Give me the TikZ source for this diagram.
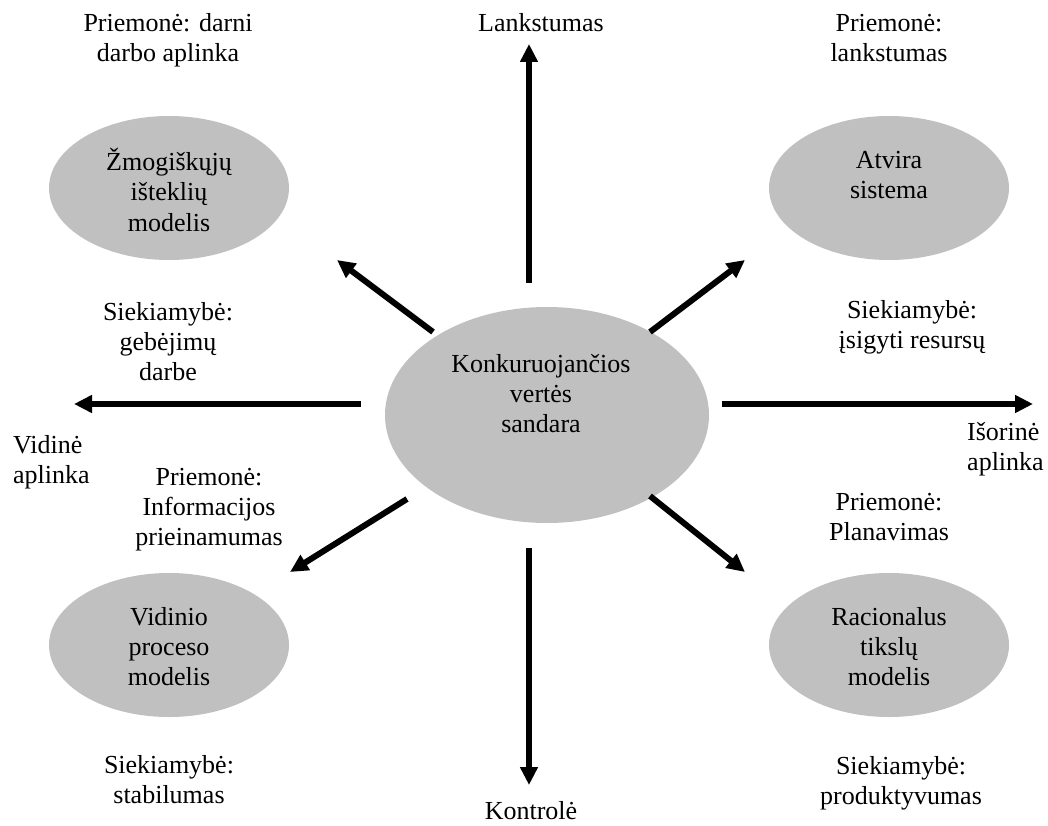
\documentclass[tikz,border=0pt]{standalone}
\usepackage{fontspec}
\setmainfont{Liberation Serif}
\usetikzlibrary{arrows.meta,shapes.geometric}
\definecolor{ellgray}{RGB}{192,192,192}
\newcommand\dfont{\fontsize{26}{30}\selectfont}
\begin{document}
\begin{tikzpicture}[x=1pt,y=-1pt,
  bubble/.style={ellipse, fill=ellgray, draw=none, inner sep=0pt, minimum width=240pt, minimum height=144pt},
  lbl/.style={align=center, font=\dfont, inner sep=0pt, anchor=base},
  lbll/.style={align=left, font=\dfont, inner sep=0pt, anchor=base west},
  arr/.style={line width=6pt, -{Triangle[length=18pt,width=17pt]}}]
\useasboundingbox (0,0) rectangle (1048,826);

% ellipses
\node[bubble, minimum width=324pt, minimum height=216pt] (cvs) at (547,415) {};
\node[bubble] (hr) at (169,188) {};
\node[bubble] (os) at (889,188) {};
\node[bubble] (ip) at (169,645) {};
\node[bubble] (rg) at (889,645) {};

% ellipse texts (anchor = baseline of last line)
\node[lbl] (tcvs) at (541,432) {Konkuruojančios\\vertės\\sandara};
\node[lbl] (thr) at (169,231) {Žmogiškųjų\\išteklių\\modelis};
\node[lbl] (tos) at (889,199) {Atvira\\sistema};
\node[lbl] (tip) at (169,685) {Vidinio\\proceso\\modelis};
\node[lbl] (trg) at (889,685) {Racionalus\\tikslų\\modelis};

% labels
\node[lbl] (l1) at (168,62) {Priemonė: darni\\darbo aplinka};
\node[lbl] (l2) at (541,32) {Lankstumas};
\node[lbl] (l3) at (889,62) {Priemonė:\\lankstumas};
\node[lbl] (l4) at (168,380) {Siekiamybė:\\gebėjimų\\darbe};
\node[lbl] (l5) at (912,348) {Siekiamybė:\\įsigyti resursų};
\node[lbll] (l6) at (13,483) {Vidinė\\aplinka};
\node[lbll] (l7) at (967,470) {Išorinė\\aplinka};
\node[lbl] (l8) at (209,545) {Priemonė:\\Informacijos\\prieinamumas};
\node[lbl] (l9) at (889,540) {Priemonė:\\Planavimas};
\node[lbl] (l10) at (169,803) {Siekiamybė:\\stabilumas};
\node[lbl] (l11) at (901,804) {Siekiamybė:\\produktyvumas};
\node[lbl] (l12) at (531,819) {Kontrolė};

% arrow end points
\coordinate (us) at (529,283); \coordinate (ue) at (529,44);
\coordinate (ds) at (529,548); \coordinate (de) at (529,785);
\coordinate (ls) at (361,404); \coordinate (le) at (74,404);
\coordinate (rs) at (722,404); \coordinate (re) at (1033,404);
\coordinate (nws) at (433,332); \coordinate (nwe) at (337,260);
\coordinate (nes) at (650,332); \coordinate (nee) at (745,260);
\coordinate (sws) at (407,499); \coordinate (swe) at (290,572);
\coordinate (ses) at (650,496); \coordinate (see) at (745,572);

\draw[arr] (us) -- (ue);
\draw[arr] (ds) -- (de);
\draw[arr] (ls) -- (le);
\draw[arr] (rs) -- (re);
\draw[arr] (nws) -- (nwe);
\draw[arr] (nes) -- (nee);
\draw[arr] (sws) -- (swe);
\draw[arr] (ses) -- (see);
\end{tikzpicture}
\end{document}
